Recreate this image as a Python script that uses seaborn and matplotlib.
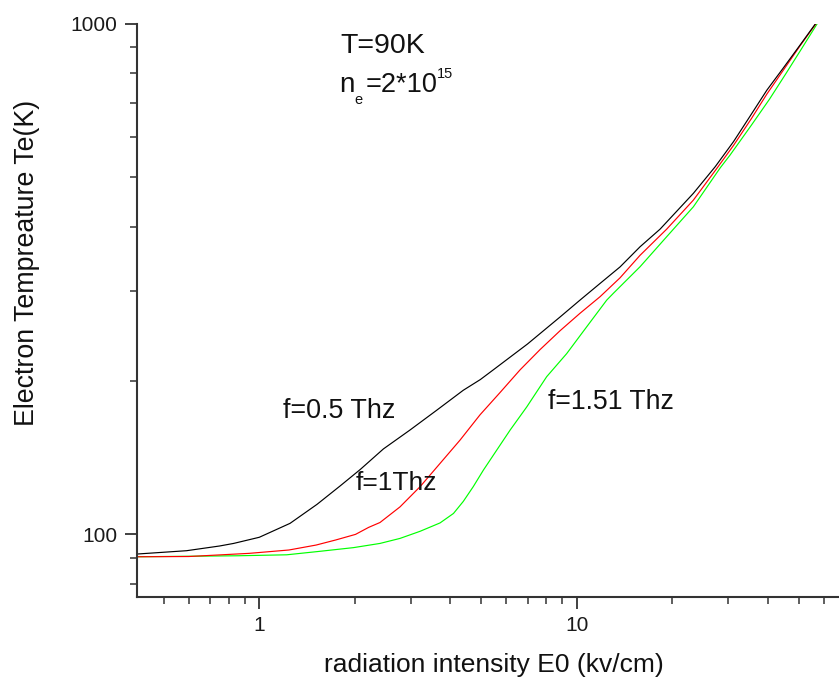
import matplotlib
matplotlib.use("Agg")
import matplotlib.pyplot as plt
import seaborn as sns
import pandas as pd
from matplotlib.ticker import FuncFormatter, NullFormatter, LogLocator

# ---- data ----
e0_05 = [0.41, 0.59, 0.75, 0.83, 1.0, 1.25, 1.52, 1.8, 2.08, 2.46, 2.98, 3.62, 4.39, 4.97, 5.46,
         7.0, 8.86, 10.24, 11.84, 13.69, 15.83, 18.3, 23.3, 27.3, 31.2, 35.2, 39.7, 44.8, 50.5, 56.5]
te_05 = [91.5, 92.9, 94.9, 96.0, 98.7, 105.1, 114.5, 124.5, 134, 147, 160, 175, 191.5, 201, 210,
         236, 266.5, 287.6, 310, 334, 365.8, 396, 465.4, 524.8, 588, 660, 741, 820, 908, 1000]

e0_10 = [0.41, 0.6, 0.93, 1.24, 1.51, 1.74, 2.01, 2.21, 2.40, 2.775, 3.21, 3.71, 4.29, 4.96, 5.73,
         6.63, 7.66, 8.86, 10.24, 11.84, 13.69, 15.83, 19.2, 23.3, 27.7, 31.2, 35.5, 39.7, 44.8, 50.5, 56.7]
te_10 = [90.4, 90.5, 91.8, 93.2, 95.3, 97.5, 100, 103.2, 105.5, 113.2, 124, 137.7, 153, 171.5, 189.5,
         210, 230, 250.5, 271, 292, 318, 352, 396, 451.4, 522, 578, 652, 728, 812, 905, 1000]

e0_151 = [0.41, 0.85, 1.22, 1.54, 1.98, 2.40, 2.775, 3.21, 3.71, 4.09, 4.39, 4.72, 5.08, 5.6, 6.17,
          6.96, 8.04, 9.3, 10.75, 12.43, 13.04, 15.83, 19.2, 23.3, 28.3, 30.4, 35.5, 40.5, 45.5, 51.0, 57.2]
te_151 = [90.4, 90.8, 91.2, 92.6, 94.2, 96.0, 98.2, 101.4, 105.3, 109.9, 116.0, 124, 133.6, 146.3, 160.1,
          177.7, 203.6, 226, 255, 287.6, 296.5, 334.3, 382.7, 438, 522, 553, 633, 712, 797, 892, 1000]

series_names = ["f=0.5 Thz", "f=1Thz", "f=1.51 Thz"]
y_ticks = [100, 1000]
x_ticks = [1, 10]

df = pd.concat([
    pd.DataFrame({"E0": e0_05, "Te": te_05, "series": series_names[0]}),
    pd.DataFrame({"E0": e0_10, "Te": te_10, "series": series_names[1]}),
    pd.DataFrame({"E0": e0_151, "Te": te_151, "series": series_names[2]}),
], ignore_index=True)

# ---- style ----
sns.set_style("ticks")
plt.rcParams["font.family"] = ["Liberation Sans", "DejaVu Sans"]

W, H = 839, 687
fig = plt.figure(figsize=(W / 100, H / 100), dpi=100)
ax_l, ax_r, ax_t, ax_b = 136.7, 839.0, 23.7, 597.0
ax = fig.add_axes([ax_l / W, 1 - ax_b / H, (ax_r - ax_l) / W, (ax_b - ax_t) / H])

palette = {series_names[0]: "#000000", series_names[1]: "#ff0000", series_names[2]: "#00ff00"}
hue_order = [series_names[2], series_names[1], series_names[0]]
sns.lineplot(data=df, x="E0", y="Te", hue="series", hue_order=hue_order, palette=palette,
             estimator=None, sort=False, legend=False, linewidth=0.85, ax=ax)

ax.set_xscale("log")
ax.set_yscale("log")
ax.set_xlim(0.411, 67)
ax.set_ylim(75.4, 1000)

ax.set_xticks(x_ticks)
ax.set_yticks(y_ticks)
ax.xaxis.set_major_formatter(FuncFormatter(lambda v, p: f"{v:g}"))
ax.yaxis.set_major_formatter(FuncFormatter(lambda v, p: f"{v:g}"))
ax.xaxis.set_minor_locator(LogLocator(base=10, subs=range(2, 10)))
ax.yaxis.set_minor_locator(LogLocator(base=10, subs=range(2, 10)))
ax.xaxis.set_minor_formatter(NullFormatter())
ax.yaxis.set_minor_formatter(NullFormatter())

sns.despine(ax=ax)
for s in ["left", "bottom"]:
    ax.spines[s].set_color("#333333")
    ax.spines[s].set_linewidth(1.5)
ax.tick_params(which="major", length=8.5, width=1.3, color="#333333", labelsize=15, pad=5.5,
               labelcolor="#1a1a1a")
ax.tick_params(which="minor", length=5, width=1.1, color="#333333")

ax.set_xlabel("radiation intensity E0 (kv/cm)", fontsize=19, color="#111111")
ax.set_ylabel("Electron Tempreature Te(K)", fontsize=19.3, color="#111111")
ax.xaxis.set_label_coords((494 - ax_l) / (ax_r - ax_l), (ax_b - 653) / (ax_b - ax_t))
ax.yaxis.set_label_coords((40 - ax_l) / (ax_r - ax_l), (ax_b - 263) / (ax_b - ax_t))


def fpx(x, y):
    return x / W, 1 - y / H


tc = "#111111"
fig.text(*fpx(340, 53), "T=90K", fontsize=20.5, ha="left", va="baseline", color=tc)
# n_e = 2*10^15, built from its pieces
fig.text(*fpx(339, 92), "n", fontsize=20, ha="left", va="baseline", color=tc)
fig.text(*fpx(354.5, 104.5), "e", fontsize=10.5, ha="left", va="baseline", color=tc)
fig.text(*fpx(366, 92), "=2*10", fontsize=19.5, ha="left", va="baseline", color=tc)
fig.text(*fpx(437, 78.5), "15", fontsize=10.5, ha="left", va="baseline", color=tc)

fig.text(*fpx(283, 418), series_names[0], fontsize=19.4, ha="left", va="baseline", color=tc)
fig.text(*fpx(356, 490), series_names[1], fontsize=19, ha="left", va="baseline", color=tc)
fig.text(*fpx(548, 409), series_names[2], fontsize=19.2, ha="left", va="baseline", color=tc)

fig.savefig("out.png", dpi=100)
